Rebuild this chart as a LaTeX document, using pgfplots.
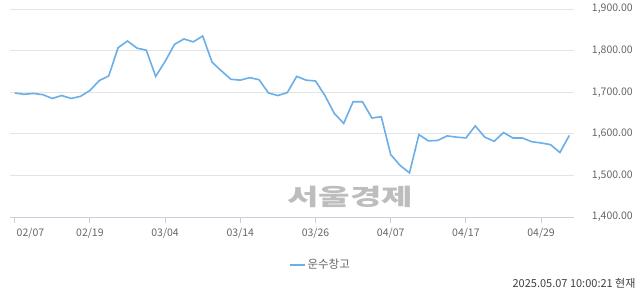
\documentclass[border=0pt]{standalone}
\usepackage{fontspec}
\setmainfont{Noto Sans CJK KR}
\usepackage{pgfplots}
\pgfplotsset{compat=1.18}
\definecolor{linec}{HTML}{6CAEE8}
\definecolor{axc}{HTML}{C8D0E0}
\definecolor{gridc}{HTML}{E4E4E4}
\definecolor{labc}{HTML}{666666}
\definecolor{wm}{HTML}{BDBDBD}
\begin{document}
\begin{tikzpicture}[x=1pt,y=1pt]
\node[font=\bfseries\fontsize{28}{28}\selectfont, text=wm, anchor=center, xscale=1.22, yscale=0.82, transform shape] at (350pt,97pt) {서울경제};
\begin{axis}[
  name=ax, at={(10pt,77pt)}, anchor=south west,
  scale only axis, width=564pt, height=208pt,
  xmin=-0.5, xmax=59.5, ymin=1400, ymax=1900,
  axis x line*=bottom, axis y line*=right,
  y axis line style={draw=none},
  x axis line style={draw=axc, line width=0.8pt},
  xtick={8,16,24,32,40,48,56},
  xticklabels={02/19,03/04,03/14,03/26,04/07,04/17,04/29},
  extra x ticks={0}, extra x tick labels={02/07},
  extra x tick style={xticklabel style={anchor=north west, xshift=-1.5pt}},
  ytick={1400,1500,1600,1700,1800,1900},
  tick align=outside,
  major tick length=6pt,
  x tick style={draw=axc, line width=0.8pt},
  y tick style={draw=none},
  ymajorgrids, grid style={draw=gridc, line width=0.8pt},
  /pgf/number format/assume math mode=true,
  yticklabel={\pgfmathprintnumber[fixed, fixed zerofill, precision=2, 1000 sep={,}]{\tick}},
  yticklabel style={anchor=east, xshift=53pt, inner sep=0pt, font=\fontsize{10.5}{12}\selectfont, text=labc},
  xticklabel style={font=\fontsize{10.5}{12}\selectfont, text=labc, yshift=-1.5pt},
  legend style={at={(0.55,-0.23)}, anchor=center, draw=none, fill=none, font=\fontsize{11.5}{12}\selectfont, text=labc},
  legend image code/.code={\draw[#1, line width=2pt] (0,0) -- (15pt,0);},
]
\addplot[color=linec, line width=1.6pt, mark=none] coordinates {
(0,1698) (1,1695) (2,1697) (3,1694) (4,1685) (5,1692) (6,1685) (7,1690) (8,1704) (9,1728)
(10,1739) (11,1807) (12,1823) (13,1806) (14,1801) (15,1738) (16,1774) (17,1815) (18,1828) (19,1821)
(20,1835) (21,1772) (22,1751) (23,1731) (24,1729) (25,1735) (26,1730) (27,1698) (28,1692) (29,1699)
(30,1738) (31,1729) (32,1727) (33,1692) (34,1649) (35,1625) (36,1677) (37,1677) (38,1638) (39,1641)
(40,1550) (41,1524) (42,1506) (43,1598) (44,1583) (45,1584) (46,1595) (47,1592) (48,1590) (49,1619)
(50,1592) (51,1582) (52,1603) (53,1590) (54,1590) (55,1581) (56,1578) (57,1574) (58,1555) (59,1596)
};
\addlegendentry{운수창고}
\end{axis}
\node[anchor=east, font=\fontsize{11}{12}\selectfont, text=black!75] at (639pt,11pt) {2025.05.07 10:00:21 현재};
\pgfresetboundingbox
\path[use as bounding box] (0pt,0pt) rectangle (640pt,294pt);
\end{tikzpicture}
\end{document}
